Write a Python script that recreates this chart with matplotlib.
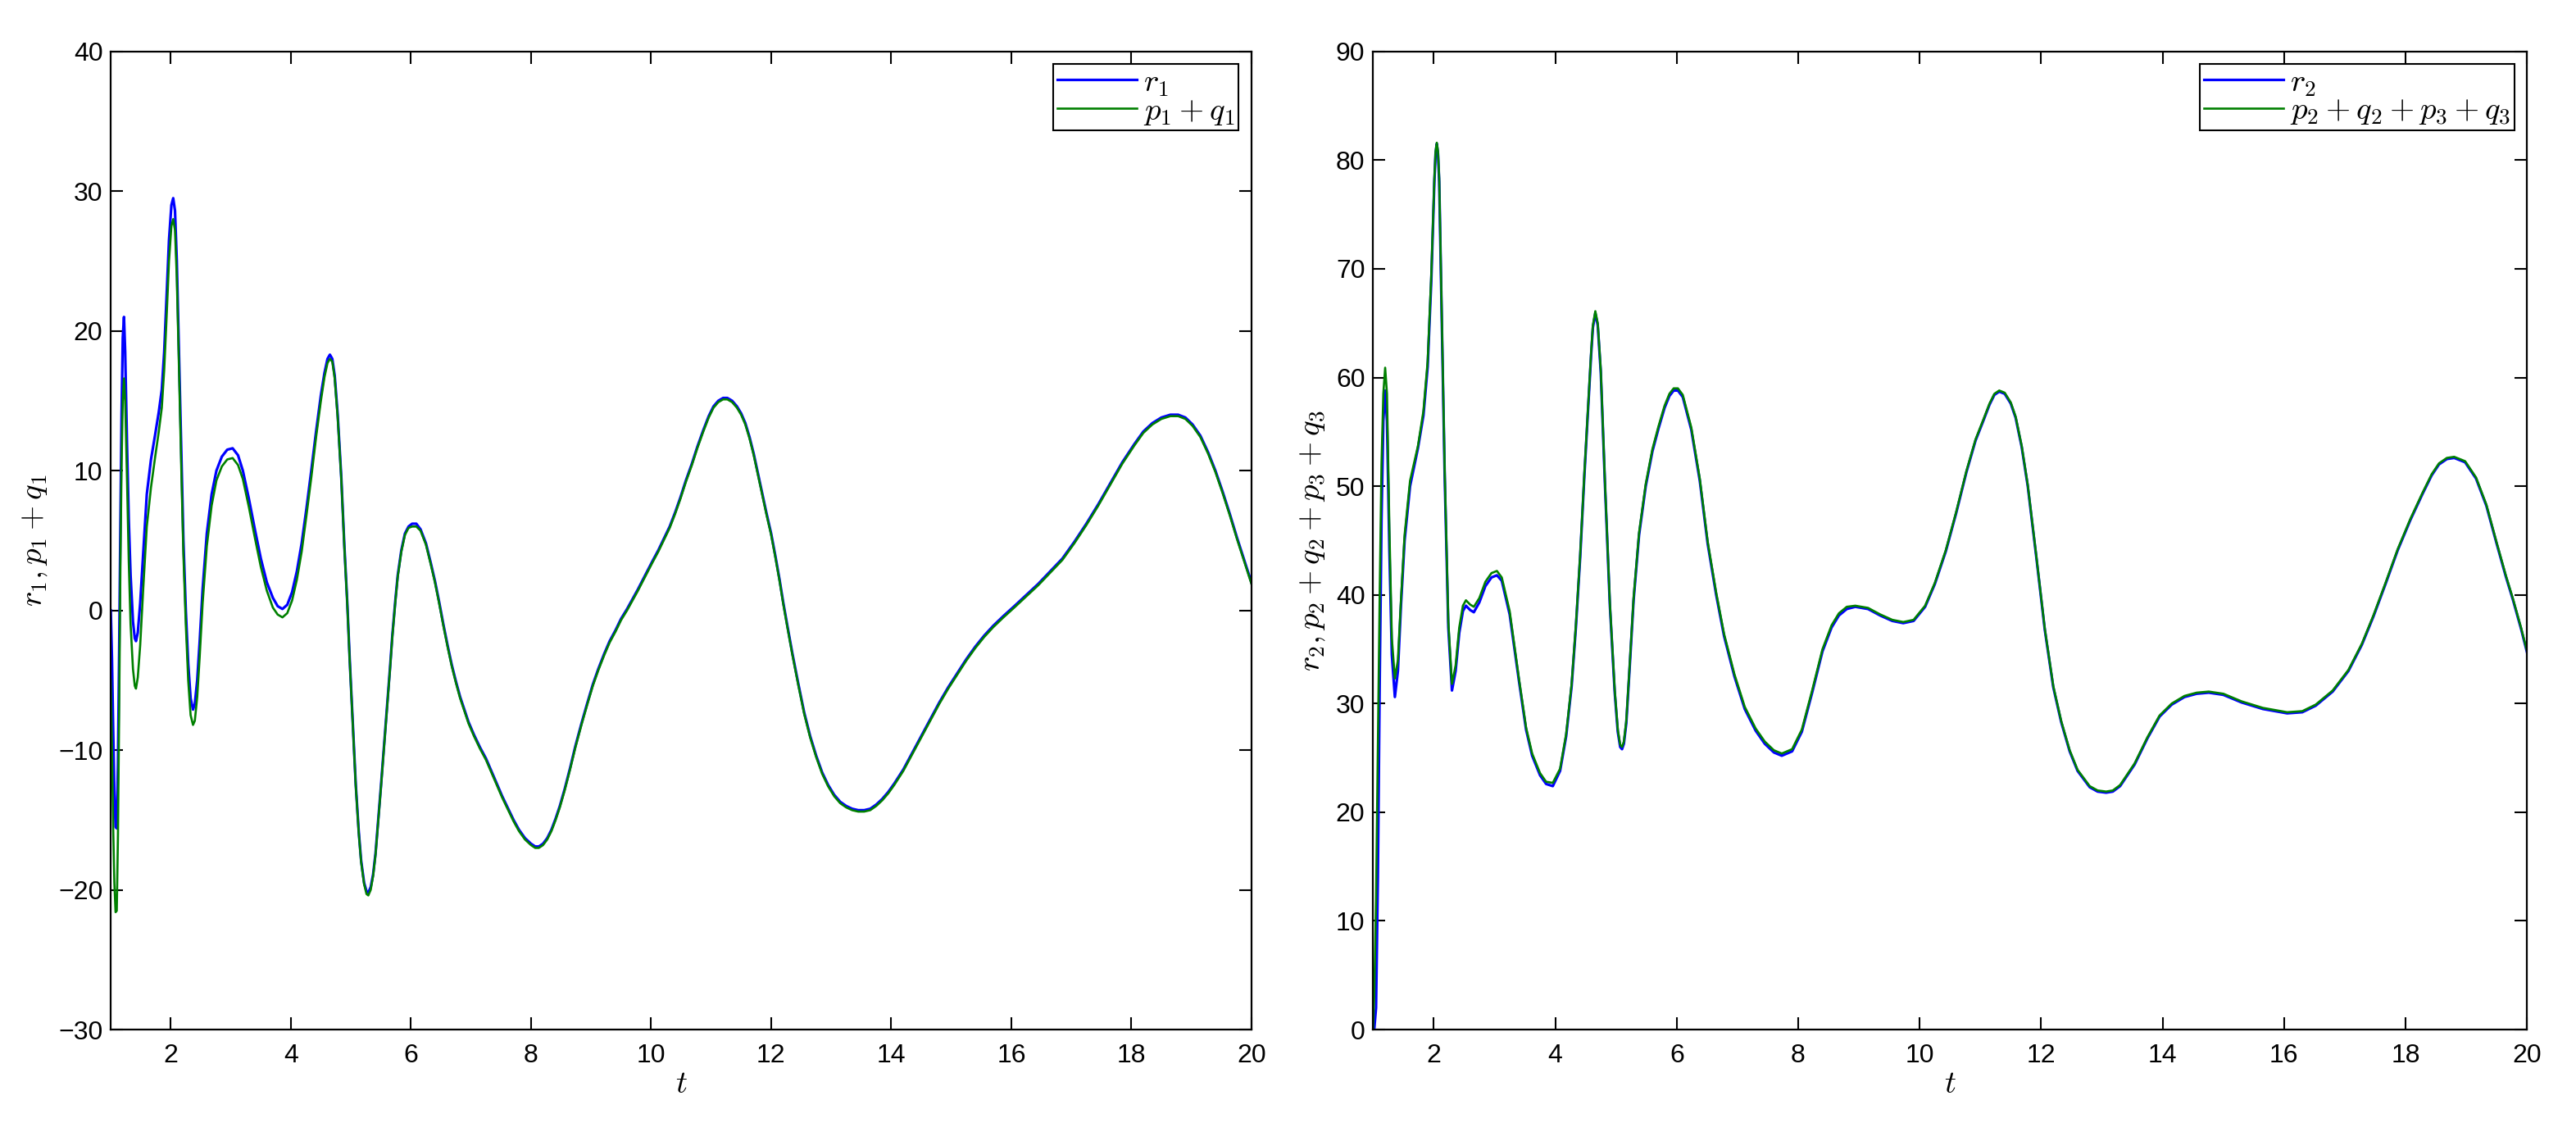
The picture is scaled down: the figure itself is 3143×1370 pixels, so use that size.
import matplotlib
matplotlib.use("Agg")
import matplotlib.pyplot as plt

##############################################################################
# data

# left panel: r1 and p1+q1 (same time samples)
t1 = [1.00, 1.02, 1.04, 1.06, 1.08, 1.10, 1.12, 1.14, 1.16, 1.18, 1.20, 1.22,
      1.24, 1.27, 1.30, 1.33, 1.37, 1.40, 1.42, 1.45, 1.49, 1.54, 1.60, 1.67,
      1.74, 1.80, 1.85, 1.89, 1.93, 1.97, 2.01, 2.04, 2.07, 2.10, 2.13, 2.17,
      2.21, 2.25, 2.29, 2.33, 2.37, 2.40, 2.44, 2.48, 2.53, 2.60, 2.68, 2.76,
      2.85, 2.94, 3.03, 3.12, 3.20, 3.30, 3.40, 3.50, 3.60, 3.70, 3.78, 3.86,
      3.94, 4.02, 4.10, 4.18, 4.26, 4.34, 4.42, 4.50, 4.56, 4.61, 4.65, 4.69,
      4.73, 4.78, 4.84, 4.89, 4.94, 4.98, 5.03, 5.08, 5.13, 5.17, 5.22, 5.26,
      5.29, 5.33, 5.37, 5.41, 5.45, 5.50, 5.55, 5.60, 5.65, 5.69, 5.74, 5.78,
      5.84, 5.90, 5.96, 6.02, 6.09, 6.16, 6.25, 6.33, 6.40, 6.47, 6.54, 6.61,
      6.68, 6.75, 6.82, 6.89, 6.96, 7.05, 7.15, 7.25, 7.34, 7.43, 7.52, 7.61,
      7.71, 7.80, 7.90, 8.00, 8.07, 8.13, 8.20, 8.27, 8.34, 8.41, 8.48, 8.56,
      8.65, 8.74, 8.84, 8.94, 9.03, 9.12, 9.22, 9.31, 9.41, 9.50, 9.60, 9.69,
      9.78, 9.90, 10.02, 10.12, 10.21, 10.31, 10.40, 10.49, 10.58, 10.68,
      10.77, 10.87, 10.96, 11.04, 11.12, 11.20, 11.27, 11.35, 11.43, 11.50,
      11.57, 11.64, 11.71, 11.78, 11.85, 11.92, 12.00, 12.07, 12.14, 12.20,
      12.27, 12.35, 12.45, 12.55, 12.65, 12.75, 12.85, 12.95, 13.05, 13.15,
      13.25, 13.35, 13.45, 13.55, 13.65, 13.75, 13.85, 13.95, 14.05, 14.20,
      14.35, 14.50, 14.65, 14.80, 14.95, 15.10, 15.25, 15.40, 15.55, 15.70,
      15.87, 16.05, 16.25, 16.45, 16.65, 16.85, 17.05, 17.25, 17.45, 17.65,
      17.85, 18.05, 18.20, 18.35, 18.50, 18.65, 18.78, 18.90, 19.02, 19.15,
      19.28, 19.40, 19.52, 19.64, 19.76, 19.88, 20.00]
r1 = [0.0, -3.5, -8.5, -13.0, -15.5, -15.6, -11.0, -3.0, 6.0, 14.0, 19.5, 21.0,
      18.5, 12.0, 6.5, 2.5, -0.8, -2.0, -2.2, -1.6, 0.5, 4.0, 8.3, 10.8,
      12.6, 14.2, 15.8, 18.5, 22.5, 26.5, 29.0, 29.5, 28.6, 25.0, 19.5, 12.0,
      5.0, 0.0, -3.8, -6.3, -7.1, -6.7, -5.0, -2.3, 1.5, 5.5, 8.3, 10.0,
      11.0, 11.5, 11.6, 11.1, 10.0, 8.0, 5.8, 3.7, 2.0, 0.9, 0.3, 0.1,
      0.4, 1.3, 2.8, 4.8, 7.3, 10.0, 12.8, 15.4, 17.0, 18.0, 18.3, 18.0,
      16.8, 14.0, 9.5, 4.7, 0.5, -3.5, -8.0, -12.4, -15.8, -17.9, -19.5, -20.1,
      -20.2, -19.8, -18.9, -17.4, -15.3, -12.6, -9.8, -7.0, -4.2, -1.8, 0.7, 2.5,
      4.3, 5.5, 6.0, 6.2, 6.2, 5.8, 4.8, 3.4, 2.1, 0.6, -1.0, -2.5,
      -3.9, -5.1, -6.2, -7.1, -8.0, -8.9, -9.8, -10.6, -11.5, -12.4, -13.3, -14.1,
      -15.0, -15.7, -16.3, -16.7, -16.9, -16.9, -16.7, -16.3, -15.7, -14.9, -14.0, -12.8,
      -11.3, -9.7, -8.1, -6.6, -5.3, -4.2, -3.1, -2.2, -1.4, -0.6, 0.1, 0.8,
      1.5, 2.5, 3.5, 4.3, 5.1, 6.0, 7.0, 8.1, 9.3, 10.5,
      11.7, 12.9, 13.9, 14.6, 15.0, 15.2, 15.2, 15.0, 14.6, 14.1,
      13.4, 12.4, 11.2, 9.8, 8.4, 7.0, 5.5, 3.9, 2.2, 0.6,
      -1.1, -3.0, -5.2, -7.3, -9.0, -10.4, -11.6, -12.5, -13.2, -13.7,
      -14.0, -14.2, -14.3, -14.3, -14.2, -13.9, -13.5, -13.0, -12.4, -11.4,
      -10.2, -9.0, -7.8, -6.6, -5.5, -4.5, -3.5, -2.6, -1.8, -1.1,
      -0.4, 0.3, 1.1, 1.9, 2.8, 3.7, 4.9, 6.2, 7.6, 9.1,
      10.6, 11.9, 12.8, 13.4, 13.8, 14.0, 14.0, 13.8, 13.3, 12.5,
      11.3, 10.0, 8.5, 6.9, 5.2, 3.6, 2.0]
pq1 = [-5.0, -10.0, -15.5, -19.5, -21.6, -21.5, -16.0, -7.0, 3.0, 10.5, 15.0, 16.6,
       15.0, 9.5, 3.5, -1.0, -4.2, -5.4, -5.6, -4.8, -2.5, 1.5, 6.0, 8.8,
       11.0, 12.8, 14.5, 17.2, 21.0, 25.0, 27.5, 28.0, 27.2, 23.8, 18.5, 11.0,
       4.0, -1.0, -5.0, -7.5, -8.2, -7.9, -6.2, -3.4, 0.5, 4.6, 7.5, 9.3,
       10.3, 10.8, 10.9, 10.4, 9.4, 7.4, 5.2, 3.1, 1.4, 0.2, -0.3, -0.5,
       -0.2, 0.7, 2.2, 4.2, 6.8, 9.5, 12.4, 15.0, 16.7, 17.7, 18.0, 17.8,
       16.6, 13.8, 9.4, 4.6, 0.4, -3.6, -8.1, -12.5, -15.9, -18.0, -19.6, -20.3,
       -20.4, -20.0, -19.0, -17.5, -15.4, -12.7, -9.9, -7.1, -4.3, -1.9, 0.6, 2.4,
       4.2, 5.4, 5.9, 6.0, 6.0, 5.7, 4.7, 3.3, 2.0, 0.5, -1.1, -2.6,
       -4.0, -5.2, -6.3, -7.2, -8.1, -9.0, -9.9, -10.7, -11.6, -12.5, -13.4, -14.2,
       -15.1, -15.8, -16.4, -16.8, -17.0, -17.0, -16.8, -16.4, -15.8, -15.0, -14.1, -12.9,
       -11.4, -9.8, -8.2, -6.7, -5.4, -4.3, -3.2, -2.3, -1.5, -0.7, 0.0, 0.7,
       1.4, 2.4, 3.4, 4.2, 5.0, 5.9, 6.9, 8.0, 9.2, 10.4,
       11.6, 12.8, 13.8, 14.5, 14.9, 15.1, 15.1, 14.9, 14.5, 14.0,
       13.3, 12.3, 11.1, 9.7, 8.3, 6.9, 5.4, 3.8, 2.1, 0.5,
       -1.2, -3.1, -5.3, -7.4, -9.1, -10.5, -11.7, -12.6, -13.3, -13.8,
       -14.1, -14.3, -14.4, -14.4, -14.3, -14.0, -13.6, -13.1, -12.5, -11.5,
       -10.3, -9.1, -7.9, -6.7, -5.6, -4.6, -3.6, -2.7, -1.9, -1.2,
       -0.5, 0.2, 1.0, 1.8, 2.7, 3.6, 4.8, 6.1, 7.5, 9.0,
       10.5, 11.8, 12.7, 13.3, 13.7, 13.9, 13.9, 13.7, 13.2, 12.4,
       11.2, 9.9, 8.4, 6.8, 5.1, 3.5, 1.9]

# right panel: r2 and p2+q2+p3+q3 (same time samples)
t2 = [1.00, 1.02, 1.05, 1.08, 1.11, 1.14, 1.17, 1.20, 1.23, 1.27, 1.31, 1.36,
      1.41, 1.46, 1.52, 1.61, 1.74, 1.83, 1.90, 1.96, 2.01, 2.03, 2.05, 2.07,
      2.09, 2.13, 2.18, 2.24, 2.30, 2.36, 2.42, 2.48, 2.53, 2.60, 2.66, 2.75,
      2.85, 2.95, 3.04, 3.12, 3.25, 3.40, 3.52, 3.62, 3.75, 3.85, 3.96, 4.08,
      4.18, 4.27, 4.34, 4.41, 4.48, 4.55, 4.59, 4.62, 4.66, 4.70, 4.75, 4.82,
      4.90, 4.98, 5.03, 5.07, 5.10, 5.13, 5.17, 5.22, 5.29, 5.38, 5.49, 5.60,
      5.70, 5.80, 5.88, 5.95, 6.02, 6.10, 6.24, 6.38, 6.51, 6.65, 6.78, 6.95,
      7.12, 7.30, 7.45, 7.60, 7.73, 7.90, 8.06, 8.23, 8.40, 8.55, 8.67, 8.80,
      8.94, 9.15, 9.35, 9.55, 9.73, 9.90, 10.09, 10.25, 10.43, 10.60, 10.77,
      10.92, 11.04, 11.15, 11.23, 11.31, 11.40, 11.50, 11.58, 11.68, 11.78,
      11.92, 12.06, 12.20, 12.33, 12.47, 12.60, 12.80, 12.93, 13.07, 13.18,
      13.30, 13.54, 13.75, 13.95, 14.15, 14.36, 14.56, 14.76, 15.00, 15.30,
      15.65, 16.05, 16.30, 16.52, 16.80, 17.06, 17.28, 17.47, 17.67, 17.87,
      18.08, 18.28, 18.43, 18.55, 18.68, 18.80, 18.98, 19.16, 19.33, 19.50,
      19.65, 19.77, 19.90, 20.00]
r2 = [0.0, 0.0, 2.0, 14.0, 32.0, 47.0, 56.0, 58.8, 56.0, 44.0, 34.5, 30.6,
      33.0, 39.0, 45.0, 50.0, 53.5, 56.5, 61.0, 69.0, 78.0, 80.6, 81.5, 80.6,
      78.0, 66.0, 51.0, 37.0, 31.2, 33.0, 36.5, 38.5, 39.0, 38.6, 38.4, 39.3,
      40.8, 41.6, 41.8, 41.3, 38.2, 32.2, 27.6, 25.2, 23.4, 22.6, 22.4, 23.8,
      27.0, 31.6, 37.0, 43.4, 51.0, 58.0, 62.0, 64.6, 65.9, 64.8, 60.5, 50.0,
      39.0, 31.0, 27.4, 26.0, 25.8, 26.3, 28.2, 32.8, 39.5, 45.5, 50.0, 53.2,
      55.3, 57.2, 58.3, 58.8, 58.8, 58.2, 55.2, 50.5, 44.7, 40.0, 36.2, 32.5,
      29.5, 27.5, 26.3, 25.5, 25.2, 25.6, 27.4, 31.0, 34.8, 37.0, 38.1, 38.7,
      38.9, 38.7, 38.1, 37.6, 37.4, 37.6, 38.9, 41.0, 44.0, 47.5, 51.3,
      54.2, 55.9, 57.5, 58.4, 58.7, 58.5, 57.6, 56.3, 53.6, 50.0,
      43.5, 36.8, 31.5, 28.3, 25.6, 23.8, 22.3, 21.9, 21.8, 21.9,
      22.4, 24.4, 26.8, 28.8, 29.9, 30.6, 30.9, 31.0, 30.8, 30.1,
      29.5, 29.1, 29.2, 29.8, 31.1, 33.0, 35.4, 38.0, 41.0, 44.1,
      46.9, 49.3, 51.0, 52.0, 52.5, 52.6, 52.2, 50.7, 48.2, 44.7,
      41.7, 39.5, 36.9, 34.7]
pq23 = [0.0, 3.0, 12.0, 26.0, 40.0, 52.0, 58.5, 60.9, 58.5, 46.0, 36.0, 32.3,
        34.0, 39.5, 45.5, 50.5, 53.7, 56.9, 61.5, 69.5, 78.3, 80.8, 81.6, 80.8,
        78.3, 66.5, 51.5, 37.5, 31.8, 33.5, 37.0, 39.0, 39.5, 39.1, 38.9, 39.7,
        41.2, 42.0, 42.2, 41.6, 38.5, 32.4, 27.8, 25.4, 23.6, 22.8, 22.7, 24.0,
        27.2, 31.8, 37.2, 43.6, 51.2, 58.2, 62.2, 64.8, 66.1, 65.0, 60.7, 50.2,
        39.2, 31.2, 27.6, 26.2, 26.0, 26.5, 28.4, 33.0, 39.7, 45.7, 50.2, 53.4,
        55.5, 57.4, 58.5, 59.0, 59.0, 58.4, 55.4, 50.7, 44.9, 40.2, 36.4, 32.7,
        29.7, 27.7, 26.5, 25.7, 25.4, 25.8, 27.6, 31.2, 35.0, 37.2, 38.3, 38.9,
        39.0, 38.8, 38.2, 37.7, 37.5, 37.7, 39.0, 41.1, 44.1, 47.6, 51.4,
        54.3, 56.0, 57.6, 58.5, 58.8, 58.6, 57.7, 56.4, 53.7, 50.1,
        43.6, 36.9, 31.6, 28.4, 25.7, 23.9, 22.4, 22.0, 21.9, 22.0,
        22.5, 24.5, 26.9, 28.9, 30.0, 30.7, 31.0, 31.1, 30.9, 30.2,
        29.6, 29.2, 29.3, 29.9, 31.2, 33.1, 35.5, 38.1, 41.1, 44.2,
        47.0, 49.4, 51.1, 52.1, 52.6, 52.7, 52.3, 50.8, 48.3, 44.8,
        41.8, 39.6, 37.0, 34.8]

##############################################################################
# matplotlib configuration (matlab look)

fontsize = 23
params = {'font.family': ['Liberation Sans', 'DejaVu Sans'],
          'mathtext.fontset': 'cm',
          'xtick.labelsize': fontsize,
          'ytick.labelsize': fontsize,
          'xtick.direction': 'in',
          'ytick.direction': 'in',
          'xtick.top': True,
          'ytick.right': True,
          'xtick.major.size': 11,
          'ytick.major.size': 11,
          'xtick.major.width': 1.5,
          'ytick.major.width': 1.5,
          'axes.linewidth': 1.6,
          'xtick.major.pad': 12,
          'ytick.major.pad': 7,
          'lines.solid_joinstyle': 'round',
          }
matplotlib.rcParams.update(params)

blue = (0, 0, 1)
green = (0, 0.5, 0)


def setup_axes(ax, ylim, yticks, ylabel):
    ax.set_xlim(1, 20)
    ax.set_ylim(*ylim)
    ax.set_xticks(range(2, 21, 2))
    ax.set_yticks(yticks)
    ax.set_yticklabels([str(v).replace('-', '\u2212') for v in yticks])
    ax.set_xlabel(r'$t$', fontsize=28, labelpad=2)
    ax.set_ylabel(ylabel, fontsize=28, labelpad=8)
    leg = ax.legend(loc='upper right', fontsize=28, fancybox=False,
                    edgecolor='black', framealpha=1, borderaxespad=0.4,
                    handlelength=2.5, handletextpad=0.2, labelspacing=-0.05,
                    borderpad=0.12)
    leg.get_frame().set_linewidth(1.5)


fig = plt.figure(figsize=(31.43, 13.70), dpi=100)

ax1 = fig.add_axes([0.043, 0.0832, 0.4428, 0.871])
ax1.plot(t1, r1, color=blue, lw=2.3, label=r'$r_1$')
ax1.plot(t1, pq1, color=green, lw=1.9, label=r'$p_1+q_1$')
setup_axes(ax1, (-30, 40), range(-30, 41, 10), r'$r_1, p_1+q_1$')

ax2 = fig.add_axes([0.533, 0.0832, 0.448, 0.871])
ax2.plot(t2, r2, color=blue, lw=2.3, label=r'$r_2$')
ax2.plot(t2, pq23, color=green, lw=1.9, label=r'$p_2+q_2+p_3+q_3$')
setup_axes(ax2, (0, 90), range(0, 91, 10), r'$r_2, p_2+q_2+p_3+q_3$')

fig.savefig('out.png', dpi=100)
